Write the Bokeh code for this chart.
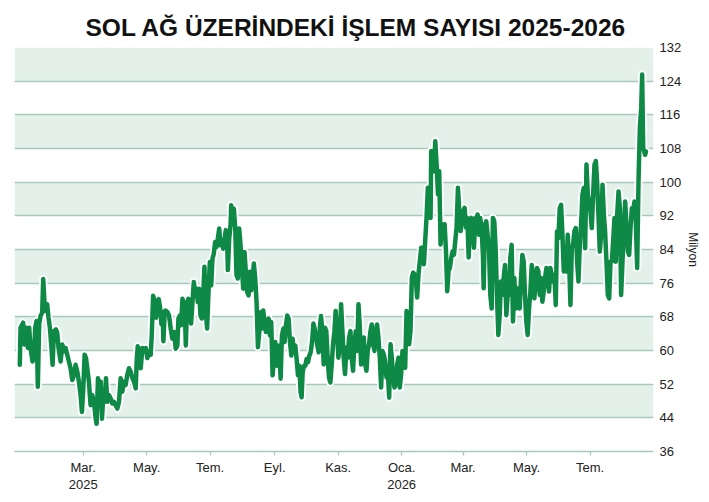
import pandas as pd
from bokeh.plotting import figure
from bokeh.models import BoxAnnotation, FixedTicker
from bokeh.embed import file_html
from bokeh.resources import INLINE

# ---- data ----
title_text = "SOL AĞ ÜZERİNDEKİ İŞLEM SAYISI 2025-2026"
unit_label = "Milyon"
base_date = "2024-12-25"
axis_end_date = "2026-08-31"

day_offset = [
    5.1, 5.8, 8.3, 9.6, 11.6, 12.8, 14.1, 15.4, 17.3, 18.6, 19.9, 21.2, 22.4, 23.7, 25.0, 26.6,
    27.6, 28.9, 30.2, 31.4, 32.7, 34.0, 35.3, 36.6, 37.9, 39.8, 41.1, 42.3, 44.3, 45.9, 47.5,
    49.1, 50.7, 52.3, 53.9, 55.5, 57.1, 58.7, 60.3, 61.9, 63.5, 64.8, 66.1, 67.4, 68.7, 69.9,
    71.5, 73.1, 74.7, 76.4, 78.0, 78.9, 80.2, 81.5, 82.8, 84.1, 85.3, 86.6, 87.9, 89.2, 90.8,
    92.4, 94.0, 95.6, 97.2, 98.8, 100.4, 102.0, 103.6, 105.2, 106.8, 108.4, 110.0, 111.6, 113.3,
    114.9, 116.5, 117.4, 118.4, 119.7, 121.3, 122.9, 124.5, 126.1, 127.7, 129.3, 130.9, 131.9,
    133.2, 134.7, 136.0, 137.3, 138.6, 139.9, 141.2, 142.5, 143.1, 144.4,
    145.3, 147.0, 148.5, 150.1, 151.7, 153.4, 154.9, 156.5, 157.5, 158.8, 160.1, 161.4, 162.7,
    163.9, 164.6, 165.9, 167.1, 168.4, 169.7, 171.0, 172.3, 173.5, 174.8, 176.1, 177.4, 178.7,
    180.0, 181.3, 182.5, 183.8, 185.1, 186.4, 187.7, 189.0, 190.2, 191.5, 192.8, 194.1, 195.4,
    196.7, 197.9, 199.2, 200.5, 201.8, 203.1, 204.4, 205.0, 206.3, 207.6, 208.2, 209.5, 210.8,
    212.1, 213.3, 214.6, 215.9, 217.2, 218.5, 219.8, 221.0, 222.3, 223.6, 224.9, 226.2, 227.5,
    228.7, 230.0, 231.3, 232.6, 233.9, 235.2, 236.4, 237.7, 239.0, 240.3, 241.6, 242.9, 244.1,
    245.4, 246.7, 248.0, 249.3, 250.6, 251.8, 253.1, 254.4, 255.7, 257.0, 258.3, 259.5, 260.8,
    262.1, 263.4, 264.7, 266.0, 267.2, 268.5, 269.8, 271.1, 272.4, 273.7, 274.9, 275.9, 276.9,
    278.2, 279.5, 280.7, 282.0, 283.3, 284.6, 285.9, 287.2, 288.4, 289.7, 291.0, 292.3, 293.6,
    294.5, 295.8, 297.1, 298.4, 299.6, 300.9, 302.2, 303.5, 304.8, 306.1, 307.4, 308.6, 309.9,
    311.2, 312.5, 313.8, 315.1, 316.3, 317.6, 318.9, 320.2, 321.5, 322.8, 324.0, 325.3, 326.6,
    327.9, 329.2, 329.8, 330.5, 331.7, 333.0, 334.3, 335.6, 336.9, 338.2, 339.4, 340.7, 342.0,
    343.3, 344.6, 345.9, 347.1, 348.4, 349.7, 351.0, 352.3, 353.6, 354.8, 356.1, 357.4, 358.7,
    360.0, 361.3, 362.5, 363.8, 365.1, 366.4, 367.7, 369.0, 370.2, 371.5, 372.8, 374.1, 375.4,
    376.7, 377.9, 379.2, 380.5, 381.8, 383.1, 384.4, 385.7, 386.9, 388.2, 389.5, 390.8, 392.1,
    393.4, 394.6, 395.9, 397.2, 398.5, 399.8, 400.4, 401.7, 403.0, 404.3, 405.6, 406.9, 408.1,
    409.4, 410.7, 412.0, 413.3, 414.6, 415.8, 417.1, 418.4, 419.7, 421.0, 422.3, 423.5, 424.8,
    426.1, 427.4, 428.7, 430.0, 431.2, 432.5, 433.8, 435.1, 436.4, 437.7, 438.9, 440.2, 441.5,
    442.8,
    443.7, 445.0, 446.3, 447.5, 448.8, 450.1, 450.8, 452.0, 453.3, 454.6, 455.9, 457.2, 458.5,
    459.7, 461.0, 462.3, 463.6, 464.9, 466.2, 467.4, 468.7, 470.0, 471.3, 472.6, 473.9, 475.1,
    476.4, 477.7, 479.0, 480.3, 481.6, 482.8, 484.1, 485.4, 486.7, 488.0, 489.3, 490.5, 491.8,
    493.1, 494.4, 495.7, 497.0, 498.2, 499.5, 500.8, 502.1, 503.4, 504.7, 505.9, 507.2, 508.5,
    509.8, 511.1, 512.4, 513.6, 514.9, 516.2, 517.5, 518.8, 520.1, 521.3, 522.6, 523.9, 525.2,
    526.5, 527.8, 529.0, 530.3, 531.6, 532.9, 534.2, 535.5, 536.7, 538.0, 539.3, 540.6, 541.9,
    543.2, 544.4, 545.7, 547.0, 548.3, 549.6, 550.9, 552.1, 553.4, 554.7, 556.0, 557.3, 558.6,
    559.8, 561.1, 562.4, 563.7, 565.0, 566.3, 567.5, 568.8, 570.1, 571.4, 572.7, 574.0, 575.2,
    576.5, 577.8, 579.1, 580.4, 581.7, 582.9, 584.2, 585.5, 586.8, 588.1, 589.4, 590.6, 591.9,
    593.2, 594.4, 595.7, 597.0, 598.3, 599.6, 600.9, 602.2, 603.1, 604.1, 605.1, 606.0, 606.7,
]

islem_milyon = [
    56.6, 65.4, 66.6, 61.4, 65.4, 60.6, 65.4, 60.6, 57.4, 58.2, 65.4, 67.0, 51.4, 66.2, 68.2, 69.0,
    77.0, 71.0, 69.4, 71.0, 67.8, 65.4, 61.4, 56.6, 64.6, 65.0, 64.2, 60.6, 57.4, 61.4, 59.8,
    60.6, 59.0, 57.4, 55.8, 53.0, 54.2, 56.6, 55.0, 52.6, 49.4, 45.4, 51.0, 59.0, 58.2, 55.8,
    52.6, 47.0, 49.4, 47.8, 43.8, 42.6, 53.4, 51.0, 52.6, 43.8, 49.4, 47.8, 53.4, 47.8, 49.4,
    48.6, 47.4, 47.8, 47.0, 46.2, 47.8, 53.4, 50.2, 52.6, 51.8, 54.2, 55.8, 55.0, 53.4,
    52.6, 51.0, 57.4, 61.0, 59.8, 55.8, 60.6, 59.8, 60.6, 58.2, 59.8, 59.0, 63.8,
    73.0, 71.8, 67.8, 71.0, 72.2, 70.2, 66.2, 67.0, 62.2, 69.4,
    69.5, 69.1, 68.3, 65.2, 62.8, 64.4, 60.4, 61.2, 67.6, 68.3, 66.0, 72.3, 70.7,
    67.6, 61.2, 71.5, 72.3, 69.1, 66.4, 71.5, 76.3, 73.9, 74.7, 71.5, 74.7, 68.3,
    67.6, 73.1, 79.9, 69.1, 65.2, 73.9, 81.0, 75.5, 81.8, 83.0, 85.8, 84.6, 86.6,
    89.0, 85.0, 86.2, 84.2, 86.6, 88.6, 85.8, 79.1, 86.6, 89.8, 94.5, 93.0, 93.7,
    89.0, 77.9, 77.1, 89.0, 85.0, 79.5, 74.7, 83.4, 78.7, 73.9, 73.1, 78.7, 74.3,
    76.7, 80.7, 77.1, 71.5, 60.8, 64.4, 69.1, 65.2, 69.5, 66.8, 64.4, 66.0, 67.6,
    63.6, 66.8, 54.1, 58.0, 62.0, 56.4, 58.8, 61.2, 53.3, 63.6, 65.2, 62.0, 66.0,
    68.3, 67.6, 62.0, 58.8, 62.8, 59.6, 61.2, 58.0, 54.1, 56.4, 50.1, 48.9, 54.9,
    56.4, 56.4, 58.0, 57.2, 58.8, 59.6, 62.0, 66.4, 65.2, 63.6, 61.2, 59.6, 66.0,
    68.2, 64.7, 56.7, 65.4, 64.6, 58.3, 53.6, 52.4, 56.7, 61.5, 64.6, 69.4, 64.6,
    58.3, 60.7, 71.0, 64.6, 58.3, 54.4, 60.7, 58.3, 63.1, 64.6, 58.3, 55.2, 61.5,
    64.6, 59.9, 64.6, 71.0, 66.2, 56.7, 61.5, 63.1, 56.7, 55.2, 59.9, 61.5, 64.6,
    66.2, 61.5, 59.9, 64.6, 66.2, 63.1, 58.3, 51.2, 59.9, 59.1, 57.5, 53.6, 55.2,
    48.8, 61.5, 58.3, 53.6, 51.2, 52.0, 56.7, 58.3, 51.2, 54.4, 59.9, 57.5, 55.9,
    69.4, 67.8, 61.5, 64.6, 77.3, 78.5, 78.1, 76.5, 72.6, 78.1, 81.3, 84.4, 84.4,
    80.5, 86.0, 91.5, 98.7, 94.7, 91.5, 107.4, 103.4, 102.6, 109.7, 104.2, 97.1, 102.6,
    85.2, 90.0, 88.4, 90.0, 83.6, 74.1, 78.9, 79.7, 82.1, 83.6, 82.8, 86.0, 89.2,
    98.7, 93.1, 88.4, 91.5, 93.1, 93.9, 89.2, 91.5, 82.1, 90.8, 91.5, 90.0, 84.4,
    91.5,
    91.5, 92.3, 87.5, 91.5, 89.1, 82.7, 74.8, 89.9, 90.7, 87.5, 84.3, 73.2, 70.0,
    91.5, 90.7, 84.3, 73.2, 63.7, 68.4, 76.4, 73.2, 77.2, 80.3, 68.4, 73.2, 73.2,
    81.9, 85.1, 66.9, 77.2, 70.0, 74.8, 73.2, 70.0, 77.2, 82.7, 81.1, 73.2, 66.9,
    63.7, 70.0, 74.0, 80.3, 78.0, 72.4, 76.4, 79.6, 78.8, 73.2, 77.2, 71.6, 74.0,
    77.2, 79.6, 77.2, 74.0, 79.6, 78.0, 76.4, 78.0, 70.8, 88.3, 86.7, 93.8, 94.6,
    87.5, 78.8, 79.6, 78.8, 87.5, 81.1, 70.8, 84.3, 85.1, 88.3, 89.1, 81.1, 76.4,
    85.1, 89.9, 97.0, 98.6, 84.3, 104.2, 97.0, 95.4, 93.0, 89.1, 97.0, 104.2, 105.0,
    100.2, 92.3, 83.5, 87.5, 99.4, 92.3, 88.3, 81.1, 73.2, 72.4, 81.1, 81.1, 85.9,
    91.5, 81.1, 92.3, 97.8, 93.8, 73.2, 81.1, 89.1, 95.4, 89.1, 83.5, 82.7, 89.1,
    93.8, 93.0, 95.4, 90.7, 79.6, 100.2, 112.9, 117.7, 125.6, 108.1, 107.3, 106.5, 107.3,
]

y_ticks = [36, 44, 52, 60, 68, 76, 84, 92, 100, 108, 116, 124, 132]
band_bottoms = [44, 60, 76, 92, 108, 124]
band_height = 8

month_ticks = ["2025-03-01", "2025-05-01", "2025-07-01", "2025-09-01", "2025-11-01",
               "2026-01-01", "2026-03-01", "2026-05-01", "2026-07-01"]
month_labels = ["Mar.\n2025", "May.", "Tem.", "Eyl.", "Kas.",
                "Oca.\n2026", "Mar.", "May.", "Tem."]

# ---- build ----
base = pd.Timestamp(base_date)
dates = [base + pd.Timedelta(days=d) for d in day_offset]

GRID = "#a7c9bb"
BAND = "#e4f1eb"
LINE = "#0f8946"
TEXT = "#222222"

p = figure(frame_width=639, frame_height=404, x_axis_type="datetime",
           x_range=(base, pd.Timestamp(axis_end_date)), y_range=(y_ticks[0], y_ticks[-1]),
           y_axis_location="right", output_backend="svg", toolbar_location=None,
           min_border_left=14, min_border_right=0, min_border_top=47, min_border_bottom=0)
p.outline_line_color = None
p.background_fill_color = "white"
p.border_fill_color = "white"

ya = p.right[0]
xa = p.below[0]

for b in band_bottoms:
    p.add_layout(BoxAnnotation(bottom=b, top=b + band_height, fill_color=BAND, fill_alpha=1.0,
                               line_color=None, level="image"))

p.xgrid.grid_line_color = None
p.ygrid.ticker = FixedTicker(ticks=y_ticks)
p.ygrid.grid_line_color = GRID
p.ygrid.grid_line_width = 1.3

p.line(dates, islem_milyon, line_color="white", line_width=8, line_join="round", line_cap="round")
p.line(dates, islem_milyon, line_color=LINE, line_width=4.5, line_join="round", line_cap="round")

# right axis
ya.ticker = FixedTicker(ticks=y_ticks)
ya.axis_line_color = None
ya.major_tick_line_color = None
ya.minor_tick_line_color = None
ya.major_tick_out = 0
ya.major_tick_in = 0
ya.minor_tick_out = 0
ya.minor_tick_in = 0
ya.major_label_standoff = 6
ya.major_label_text_font = "Liberation Sans"
ya.major_label_text_font_size = "13px"
ya.major_label_text_color = TEXT
ya.axis_label = unit_label
ya.axis_label_text_font = "Liberation Sans"
ya.axis_label_text_font_size = "12px"
ya.axis_label_text_font_style = "normal"
ya.axis_label_text_color = TEXT
ya.axis_label_standoff = 2

# bottom axis
tick_ms = [int(pd.Timestamp(s).value // 10**6) for s in month_ticks]
xa.ticker = FixedTicker(ticks=tick_ms)
xa.major_label_overrides = {t: lab for t, lab in zip(tick_ms, month_labels)}
xa.axis_line_color = GRID
xa.axis_line_width = 1.3
xa.major_tick_line_color = GRID
xa.major_tick_line_width = 1.3
xa.major_tick_in = 0
xa.major_tick_out = 4
xa.minor_tick_line_color = None
xa.minor_tick_out = 0
xa.minor_tick_in = 0
xa.major_label_standoff = 4
xa.major_label_text_font = "Liberation Sans"
xa.major_label_text_font_size = "13px"
xa.major_label_text_color = TEXT
xa.major_label_text_line_height = 1.15

p.title.text = title_text
p.title.align = "left"
p.title.offset = 67
p.title.text_font = "Liberation Sans"
p.title.text_font_style = "bold"
p.title.text_font_size = "24.5px"
p.title.text_color = "#111111"
p.title.padding = 4
p.title.standoff = 5

open("out.html", "w").write(file_html(p, INLINE))
